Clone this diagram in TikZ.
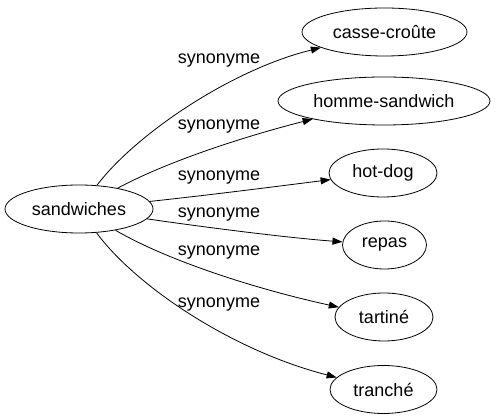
\documentclass[tikz,border=0pt]{standalone}
\usepackage{fontspec}
\setmainfont{Liberation Sans}
\usetikzlibrary{arrows.meta,shapes.geometric}
\begin{document}
\begin{tikzpicture}[x=1pt,y=-1pt,
  word/.style={draw,ellipse,line width=0.8pt,minimum height=48pt,inner sep=0pt,font=\fontsize{18}{20}\selectfont},
  rel/.style={font=\fontsize{18}{20}\selectfont,inner sep=0pt},
  syn/.style={line width=0.8pt,-{Triangle[length=10pt,width=7pt]}}]
\useasboundingbox (0,0) rectangle (496,419);
\node[word,minimum width=148pt] (s) at (79,209) {sandwiches};
\node[word,minimum width=165pt] (a) at (384.5,32) {casse-croûte};
\node[word,minimum width=212pt] (b) at (384,101) {homme-sandwich};
\node[word,minimum width=108pt] (c) at (383,173) {hot-dog};
\node[word,minimum width=84pt] (d) at (384.5,245) {repas};
\node[word,minimum width=98pt] (e) at (384,317) {tartiné};
\node[word,minimum width=107pt] (f) at (383.5,389.5) {tranché};
\node[rel] (la) at (219,61) {synonyme};
\node[rel] (lb) at (219,127) {synonyme};
\node[rel] (lc) at (219,178) {synonyme};
\node[rel] (ld) at (219,215) {synonyme};
\node[rel] (le) at (219,253) {synonyme};
\node[rel] (lf) at (219,305) {synonyme};
\draw[syn] (s) .. controls (135,135) and (230,70) .. (a);
\draw[syn] (s) .. controls (170,160) and (250,135) .. (b);
\draw[syn] (s) .. controls (210,195) and (280,186) .. (c);
\draw[syn] (s) .. controls (210,228) and (290,238) .. (d);
\draw[syn] (s) .. controls (170,262) and (260,290) .. (e);
\draw[syn] (s) .. controls (135,285) and (230,350) .. (f);
\end{tikzpicture}
\end{document}
